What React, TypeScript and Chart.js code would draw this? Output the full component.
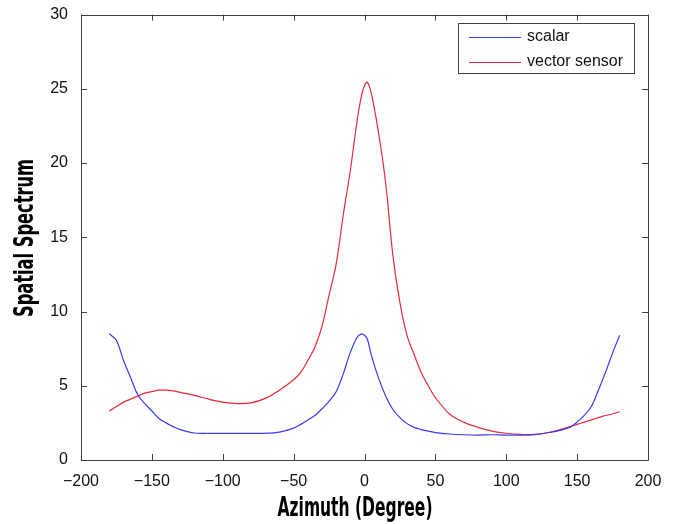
import React, { useEffect, useRef } from "react";
import { Chart, registerables } from "chart.js";

Chart.register(...registerables);

const azimuth = [-180, -175, -170, -165, -160, -155, -150, -145, -140, -135, -130, -120, -110, -100, -90, -80, -70, -60, -50, -45, -40, -35, -30, -25, -20, -15, -10, -5, -2, 0, 2, 5, 10, 15, 20, 25, 30, 35, 40, 45, 50, 60, 70, 80, 90, 100, 110, 120, 130, 140, 145, 150, 155, 160, 165, 170, 175, 180];

const scalar = [8.5, 8.05, 6.7, 5.55, 4.4, 3.8, 3.3, 2.8, 2.5, 2.25, 2.05, 1.82, 1.8, 1.8, 1.8, 1.8, 1.8, 1.88, 2.15, 2.4, 2.7, 3.0, 3.45, 3.95, 4.6, 5.8, 7.25, 8.3, 8.5, 8.4, 8.15, 7.0, 5.5, 4.3, 3.4, 2.85, 2.45, 2.2, 2.05, 1.95, 1.85, 1.75, 1.7, 1.68, 1.7, 1.68, 1.68, 1.72, 1.85, 2.05, 2.2, 2.55, 3.0, 3.6, 4.7, 5.9, 7.2, 8.4];

const vectorSensor = [3.3, 3.6, 3.9, 4.1, 4.3, 4.5, 4.6, 4.7, 4.7, 4.65, 4.55, 4.35, 4.1, 3.9, 3.8, 3.85, 4.15, 4.7, 5.4, 5.9, 6.7, 7.6, 9.0, 11.1, 13.2, 16.5, 19.5, 23.0, 24.6, 25.2, 25.45, 24.6, 22.0, 18.6, 13.8, 10.6, 8.4, 7.1, 5.9, 5.0, 4.2, 3.1, 2.55, 2.2, 1.95, 1.8, 1.72, 1.7, 1.85, 2.1, 2.25, 2.4, 2.55, 2.7, 2.85, 3.0, 3.1, 3.25];

const xTicks = [-200, -150, -100, -50, 0, 50, 100, 150, 200];
const yTicks = [0, 5, 10, 15, 20, 25, 30];
const seriesNames = ["scalar", "vector sensor"];
const xTitle = "Azimuth (Degree)";
const yTitle = "Spatial Spectrum";

const BLUE = "#3a3af0";
const RED = "#e8283c";
const AXIS = "#404040";

const fmt = (v: number) => (v < 0 ? "\u2212" + Math.abs(v) : String(v));

function fitText(ctx: CanvasRenderingContext2D, text: string, cx: number, cy: number, w: number, rot: number) {
  ctx.save();
  ctx.translate(cx, cy);
  ctx.rotate(rot);
  const m = ctx.measureText(text).width;
  ctx.scale(w / m, 1);
  ctx.textAlign = "center";
  ctx.textBaseline = "middle";
  ctx.fillText(text, 0, 0);
  ctx.restore();
}

const framePlugin = {
  id: "frame",
  afterDraw(chart: any) {
    const { ctx, chartArea: a, scales } = chart;
    const xs = scales.x;
    const ys = scales.y;
    ctx.save();
    ctx.strokeStyle = AXIS;
    ctx.lineWidth = 1;
    ctx.beginPath();
    ctx.rect(Math.round(a.left) + 0.5, Math.round(a.top) + 0.5, Math.round(a.right - a.left), Math.round(a.bottom - a.top));
    ctx.stroke();
    const tl = 6;
    ctx.beginPath();
    xTicks.forEach((t) => {
      const px = Math.round(xs.getPixelForValue(t)) + 0.5;
      ctx.moveTo(px, a.bottom);
      ctx.lineTo(px, a.bottom - tl);
      ctx.moveTo(px, a.top);
      ctx.lineTo(px, a.top + tl);
    });
    yTicks.forEach((t) => {
      const py = Math.round(ys.getPixelForValue(t)) + 0.5;
      ctx.moveTo(a.left, py);
      ctx.lineTo(a.left + tl, py);
      ctx.moveTo(a.right, py);
      ctx.lineTo(a.right - tl, py);
    });
    ctx.stroke();

    // legend
    const lx = 458, ly = 23, lw = 176, lh = 50;
    ctx.fillStyle = "#ffffff";
    ctx.fillRect(lx, ly, lw, lh);
    ctx.strokeStyle = AXIS;
    ctx.strokeRect(lx + 0.5, ly + 0.5, lw, lh);
    const rows = [
      { name: seriesNames[0], color: BLUE, y: 37 },
      { name: seriesNames[1], color: RED, y: 62 },
    ];
    ctx.font = '16px "Liberation Sans", Arial, sans-serif';
    ctx.textBaseline = "middle";
    ctx.textAlign = "left";
    rows.forEach((r) => {
      ctx.strokeStyle = r.color;
      ctx.lineWidth = 1.2;
      ctx.beginPath();
      ctx.moveTo(469, r.y + 0.5);
      ctx.lineTo(521, r.y + 0.5);
      ctx.stroke();
      ctx.fillStyle = "#111";
      ctx.fillText(r.name, 527, r.y);
    });

    // axis titles
    ctx.fillStyle = "#000";
    ctx.font = 'bold 26px "Liberation Sans Narrow", "DejaVu Sans Condensed", sans-serif';
    fitText(ctx, xTitle, 355, 509, 155, 0);
    fitText(ctx, yTitle, 26, 238, 158, -Math.PI / 2);
    ctx.restore();
  },
};

export default function App() {
  const ref = useRef<HTMLCanvasElement | null>(null);
  useEffect(() => {
    if (!ref.current) return;
    const chart = new Chart(ref.current, {
      type: "line",
      data: {
        datasets: [
          {
            label: seriesNames[0],
            data: azimuth.map((x, i) => ({ x, y: scalar[i] })),
            borderColor: BLUE,
            borderWidth: 1.2,
            pointRadius: 0,
            tension: 0.35,
          },
          {
            label: seriesNames[1],
            data: azimuth.map((x, i) => ({ x, y: vectorSensor[i] })),
            borderColor: RED,
            borderWidth: 1.2,
            pointRadius: 0,
            tension: 0.35,
          },
        ],
      },
      options: {
        responsive: false,
        animation: false,
        layout: { padding: { top: 13, right: 28, left: 0, bottom: 0 } },
        plugins: { legend: { display: false }, tooltip: { enabled: false } },
        scales: {
          x: {
            type: "linear",
            min: -200,
            max: 200,
            grid: { display: false },
            border: { display: false },
            afterBuildTicks: (s: any) => {
              s.ticks = xTicks.map((v) => ({ value: v }));
            },
            afterFit: (s: any) => {
              s.height = 64;
            },
            ticks: {
              padding: 4,
              color: "#111",
              font: { family: '"Liberation Sans", Arial, sans-serif', size: 16 },
              maxRotation: 0,
              autoSkip: false,
              callback: (v: any) => fmt(Number(v)),
            },
          },
          y: {
            type: "linear",
            min: 0,
            max: 30,
            grid: { display: false },
            border: { display: false },
            afterBuildTicks: (s: any) => {
              s.ticks = yTicks.map((v) => ({ value: v }));
            },
            afterFit: (s: any) => {
              s.width = 81;
            },
            ticks: {
              padding: 5,
              color: "#111",
              font: { family: '"Liberation Sans", Arial, sans-serif', size: 16 },
              autoSkip: false,
              callback: (v: any) => fmt(Number(v)),
            },
          },
        },
      },
      plugins: [framePlugin],
    } as any);
    return () => chart.destroy();
  }, []);
  return (
    <div style={{ position: "absolute", left: 0, top: 0, width: 676, height: 524, background: "#fff" }}>
      <canvas ref={ref} width={676} height={524} style={{ display: "block" }} />
    </div>
  );
}
